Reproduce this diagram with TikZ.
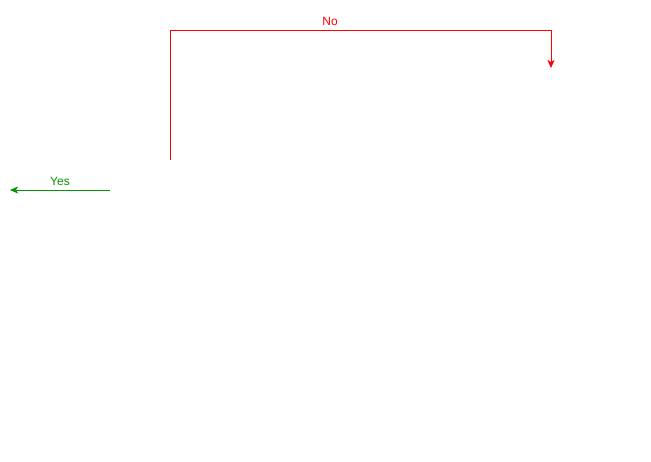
\documentclass[tikz,border=0pt]{standalone}
\usepackage{fontspec}
\setmainfont{Liberation Sans}
\usetikzlibrary{arrows.meta}
\definecolor{nored}{RGB}{255,0,0}
\definecolor{yesgreen}{RGB}{0,153,0}

\tikzset{
	,font = \fontsize{12}{14}\selectfont
	,edgeno/.style  = {-{Stealth[length=8pt,width=7pt,inset=2pt]}, line width=1pt, nored}
	,edgeyes/.style = {-{Stealth[length=8pt,width=7pt,inset=2pt]}, line width=1pt, yesgreen}
}

\begin{document}
\begin{tikzpicture}[x=1pt, y=-1pt]
				\useasboundingbox (0,0) rectangle (651,461);
				\coordinate (nostart) at (170,160);
				\coordinate (noend) at (551,68);
				\coordinate (yesstart) at (110,190);
				\coordinate (yesend) at (10,190);
				\draw[edgeno] (nostart) -- (170,30) -- node[above, pos=0.42, text=nored, inner sep=4pt] {No} (551,30) -- (noend);
				\draw[edgeyes] (yesstart) -- node[above, text=yesgreen, inner sep=4pt] {Yes} (yesend);
			\end{tikzpicture}
\end{document}
